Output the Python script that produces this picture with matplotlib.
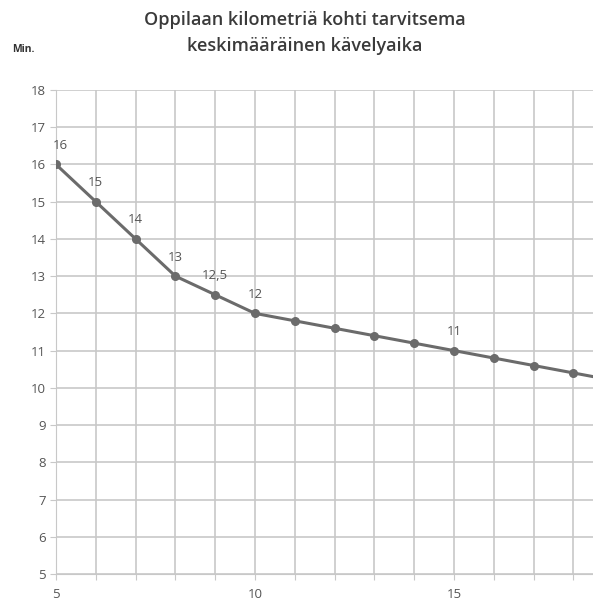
import matplotlib
matplotlib.use('Agg')
import matplotlib.pyplot as plt

plt.rcParams['font.family'] = ['Open Sans', 'DejaVu Sans']

# data
km = [5, 6, 7, 8, 9, 10, 11, 12, 13, 14, 15, 16, 17, 18, 19]
minutes = [16, 15, 14, 13, 12.5, 12, 11.8, 11.6, 11.4, 11.2, 11, 10.8, 10.6, 10.4, 10.2]
labelled = {5: '16', 6: '15', 7: '14', 8: '13', 9: '12,5', 10: '12', 15: '11'}

fig = plt.figure(figsize=(5.93, 6.07), dpi=100)
ax = fig.add_axes([56 / 593, 1 - 574 / 607, 1 - 56 / 593, (574 - 90) / 607])

ax.plot(km, minutes, color='#6b6b6b', lw=2.2, marker='o', ms=5.5, clip_on=True, zorder=3)

for x, y in zip(km, minutes):
    if x in labelled:
        dx = 3 if x == 5 else 0
        ax.annotate(labelled[x], (x, y), xytext=(dx, 9), textcoords='offset points',
                    ha='center', va='bottom', fontsize=9.5, color='#555555')

ax.set_xlim(5, 18.49)
ax.set_ylim(5, 18)
ax.set_xticks(range(5, 19))
ax.set_xticklabels([str(v) if v % 5 == 0 else '' for v in range(5, 19)])
ax.set_yticks(range(5, 19))
ax.grid(True, color='#c8c8c8', lw=1.2)
for s in ['top', 'right']:
    ax.spines[s].set_visible(False)
ax.spines['left'].set_color('#c8c8c8')
ax.spines['bottom'].set_color('#c8c8c8')
ax.tick_params(colors='#c8c8c8', labelcolor='#555555', labelsize=9.5, length=4)
ax.tick_params(axis='x', pad=6)

fig.text(305 / 593, 1 - 33 / 607, 'Oppilaan kilometriä kohti tarvitsema\nkeskimääräinen kävelyaika',
         ha='center', va='center', fontsize=13, fontweight='semibold', color='#3a3a3a',
         linespacing=1.6)
fig.text(12 / 593, 1 - 50 / 607, 'Min.', ha='left', va='center', fontsize=7.5,
         fontweight='bold', color='#333333')

fig.savefig('out.png', dpi=100)
